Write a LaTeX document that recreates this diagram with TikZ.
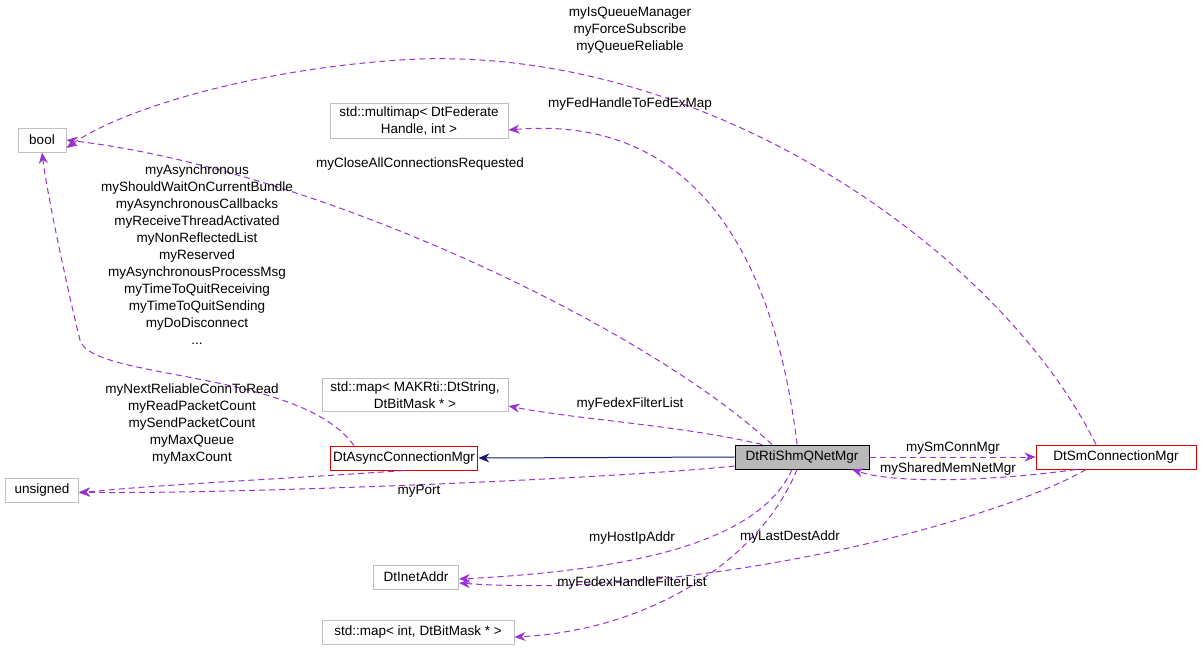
\documentclass[tikz,border=0pt]{standalone}
\usepackage{fontspec}
\setmainfont{Liberation Sans}
\usetikzlibrary{positioning, arrows.meta}

\definecolor{edgepurple}{HTML}{9A32CD}
\definecolor{edgenavy}{HTML}{191970}
\tikzset{
  cls/.style={draw=gray!50, fill=white, line width=1pt, inner sep=3pt, minimum height=24pt, align=center, font=\fontsize{13.5}{17}\selectfont},
  redcls/.style={cls, draw=red!85!black},
  mem/.style={draw=edgepurple, line width=1pt, dash pattern=on 6pt off 4pt, -{Stealth[length=11pt,width=9pt]}},
  lbl/.style={font=\fontsize{13.5}{17}\selectfont, align=center, inner sep=1pt},
}

\begin{document}
\begin{tikzpicture}[x=1pt, y=-1pt]
\useasboundingbox (0,0) rectangle (1203,651);

          \node[cls, minimum width=48pt] (bool) at (42,140) {bool};
          \node[cls, minimum width=178pt] (mmap) at (419,121) {std::multimap< DtFederate\\Handle, int >};
          \node[cls, minimum width=186pt] (smap) at (415,395) {std::map< MAKRti::DtString,\\DtBitMask * >};
          \node[cls, minimum width=73pt] (uns) at (42,490) {unsigned};
          \node[redcls, minimum width=134pt] (async) at (404,458) {DtAsyncConnectionMgr};
          \node[cls, draw=black, fill=gray!55, minimum width=134pt] (rti) at (802,457) {DtRtiShmQNetMgr};
          \node[redcls, minimum width=160pt] (sm) at (1116,457) {DtSmConnectionMgr};
          \node[cls, minimum width=85pt] (inet) at (416,577) {DtInetAddr};
          \node[cls, minimum width=192pt] (imap) at (418,632) {std::map< int, DtBitMask * >};

          % inheritance
          \draw[edgenavy, line width=1pt, -{Stealth[length=11pt,width=9pt]}] (rti.west) -- (async.east);

          % members
          \draw[mem] ([xshift=-50pt]async.north) .. controls (300,370) and (90,380) .. (80,340)
            .. controls (70,300) and (48,200) .. (bool.south);
          \draw[mem] ([xshift=-30pt]rti.north) .. controls (650,330) and (320,170) .. (bool.east);
          \draw[mem] ([xshift=-20pt]sm.north) .. controls (1000,250) and (700,40) .. (400,60)
            .. controls (250,70) and (120,110) .. ([yshift=-8pt]bool.east);
          \draw[mem] ([xshift=-5pt]rti.north) .. controls (780,300) and (720,112) .. ([yshift=-9pt]mmap.east);
          \draw[mem] ([xshift=-40pt]rti.north) .. controls (680,425) and (580,420) .. ([yshift=-11pt]smap.east);
          \draw[mem] (async.south) .. controls (300,478) and (150,485) .. ([yshift=-3pt]uns.east);
          \draw[mem] ([yshift=-9pt]rti.west) .. controls (600,480) and (200,495) .. ([yshift=-2pt]uns.east);
          \draw[mem] (rti.east) -- (sm.west);
          \draw[mem] ([xshift=-40pt]sm.south) .. controls (1000,480) and (900,485) .. ([xshift=50pt]rti.south);
          \draw[mem] ([xshift=-10pt]rti.south) .. controls (760,540) and (640,570) .. ([yshift=-2pt]inet.east);
          \draw[mem] ([xshift=-30pt]sm.south) .. controls (1000,520) and (700,600) .. ([yshift=-6pt]inet.east);
          \draw[mem] ([xshift=-5pt]rti.south) .. controls (760,560) and (650,630) .. ([yshift=-5pt]imap.east);

          % member labels
          \node[lbl] (lAsync) at (197,255) {myAsynchronous\\myShouldWaitOnCurrentBundle\\myAsynchronousCallbacks\\myReceiveThreadActivated\\myNonReflectedList\\myReserved\\myAsynchronousProcessMsg\\myTimeToQuitReceiving\\myTimeToQuitSending\\myDoDisconnect\\...};
          \node[lbl] (lClose) at (420,164) {myCloseAllConnectionsRequested};
          \node[lbl] (lQueue) at (630,30) {myIsQueueManager\\myForceSubscribe\\myQueueReliable};
          \node[lbl] (lFed) at (630,104) {myFedHandleToFedExMap};
          \node[lbl] (lFilt) at (630,404) {myFedexFilterList};
          \node[lbl] (lUns) at (192,424) {myNextReliableConnToRead\\myReadPacketCount\\mySendPacketCount\\myMaxQueue\\myMaxCount};
          \node[lbl] (lPort) at (419,491) {myPort};
          \node[lbl] (lSmc) at (953,448) {mySmConnMgr};
          \node[lbl] (lShm) at (948,469) {mySharedMemNetMgr};
          \node[lbl] (lHost) at (632,538) {myHostIpAddr};
          \node[lbl] (lLast) at (790,537) {myLastDestAddr};
          \node[lbl] (lHfl) at (632,583) {myFedexHandleFilterList};
\end{tikzpicture}
\end{document}
